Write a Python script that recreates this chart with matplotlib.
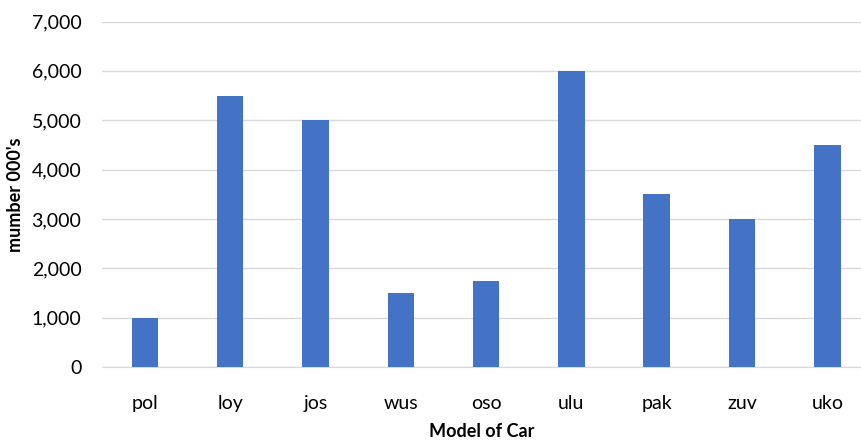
import numpy as np
import matplotlib.pyplot as plt
from matplotlib.ticker import FuncFormatter

models = ["pol", "loy", "jos", "wus", "oso", "ulu", "pak", "zuv", "uko"]
numbers = [1000, 5500, 5000, 1500, 1750, 6000, 3500, 3000, 4500]

plt.rcParams['font.family'] = ['Lato', 'DejaVu Sans']

fig = plt.figure(figsize=(8.61, 4.41), dpi=100)
ax = fig.add_axes([0.1188, 0.1678, 0.8812, 0.7834])

x = np.arange(len(models))
ax.bar(x, numbers, width=0.31, color="#4472C4", zorder=3)

ax.set_ylim(0, 7000)
ax.set_yticks(np.arange(0, 7001, 1000))
ax.yaxis.set_major_formatter(FuncFormatter(lambda v, p: f"{int(v):,}"))
ax.set_xlim(-0.5, 8.395)
ax.set_xticks(x)
ax.set_xticklabels(models)

ax.grid(axis="y", color="#D9D9D9", linewidth=1, zorder=0)
for s in ["top", "right", "left"]:
    ax.spines[s].set_visible(False)
ax.spines["bottom"].set_color("#D9D9D9")
ax.tick_params(axis="both", length=0, labelsize=14, colors="#000000")
ax.tick_params(axis="y", pad=15)
ax.tick_params(axis="x", pad=20)

ax.set_xlabel("Model of Car", fontsize=13, fontweight="bold", va="center")
ax.xaxis.set_label_coords(0.5, -0.188)
ax.set_ylabel("mumber 000's", fontsize=13, fontweight="bold", va="center")
ax.yaxis.set_label_coords(-0.115, 0.5)

fig.savefig("out.png", dpi=100)
